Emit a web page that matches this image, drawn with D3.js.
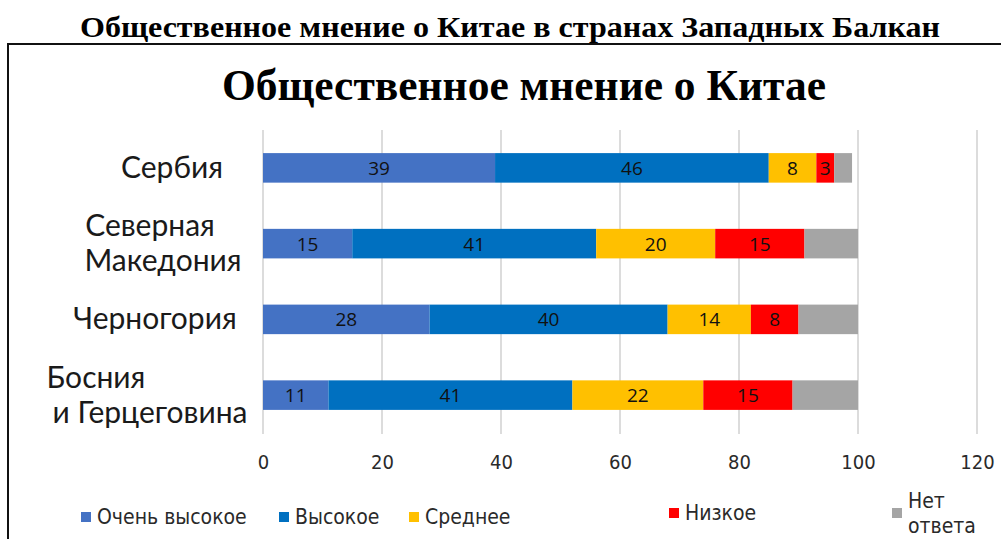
<!DOCTYPE html>
<html lang="ru">
<head>
<meta charset="utf-8">
<title>Общественное мнение о Китае</title>
<script src="https://d3js.org/d3.v7.min.js"></script>
<style>
	body { margin: 0; background: #fff; }
	svg { display: block; }
</style>
</head>
<body>
<svg id="chart" width="1001" height="539"></svg>
<script>
// data
var countries = ["Сербия", "Северная Македония", "Черногория", "Босния и Герцеговина"]
var countryLines = [["Сербия"], ["Северная", "Македония"], ["Черногория"], ["Босния", "и Герцеговина"]]
var seriesNames = ["Очень высокое", "Высокое", "Среднее", "Низкое", "Нет ответа"]
var veryHigh = [39, 15, 28, 11]
var high = [46, 41, 40, 41]
var medium = [8, 20, 14, 22]
var low = [3, 15, 8, 15]
var noAnswer = [3, 9, 10, 11]
var xTicks = [0, 20, 40, 60, 80, 100, 120]
var colors = ["#4472c4", "#0070c0", "#ffc000", "#ff0000", "#a5a5a5"]

var rows = countries.map(function(c, i) {
	return { country: c, values: [veryHigh[i], high[i], medium[i], low[i], noAnswer[i]] }
})

var svg = d3.select("#chart")

// page title
svg.append("text")
	.attr("x", 510).attr("y", 37)
	.attr("text-anchor", "middle")
	.style("font-family", "'Liberation Serif', serif")
	.style("font-weight", "bold")
	.style("font-size", "29px")
	.attr("textLength", 860)
	.attr("lengthAdjust", "spacingAndGlyphs")
	.text("Общественное мнение о Китае в странах Западных Балкан")

// frame
svg.append("rect")
	.attr("x", 8).attr("y", 44)
	.attr("width", 1010).attr("height", 520)
	.attr("fill", "none").attr("stroke", "#111").attr("stroke-width", 2)

// chart title
svg.append("text")
	.attr("x", 524).attr("y", 100)
	.attr("text-anchor", "middle")
	.style("font-family", "'Liberation Serif', serif")
	.style("font-weight", "bold")
	.style("font-size", "44px")
	.attr("textLength", 604)
	.attr("lengthAdjust", "spacingAndGlyphs")
	.text("Общественное мнение о Китае")

var x = d3.scaleLinear().domain([0, 120]).range([263, 977])
var y = d3.scaleBand().domain(countries).range([130, 433]).paddingInner(0.61).paddingOuter(0.305)

// grid
svg.append("g").selectAll("line")
	.data(xTicks)
	.join("line")
	.attr("x1", d => x(d)).attr("x2", d => x(d))
	.attr("y1", 130).attr("y2", 434)
	.attr("stroke", "#dcdcdc").attr("stroke-width", 2)

// x axis labels
var xAxis = svg.append("g")
	.attr("transform", "translate(0,455)")
	.call(d3.axisBottom(x).tickValues(xTicks).tickSize(0).tickPadding(0))
xAxis.select(".domain").remove()
xAxis.selectAll("text")
	.style("font-family", "'DejaVu Sans Condensed', 'Liberation Sans Narrow', sans-serif")
	.style("font-size", "20px")
	.attr("fill", "#2a2a2a")

// stacked bars
var stacked = rows.map(function(r) {
	var acc = 0
	return r.values.map(function(v, k) {
		var seg = { country: r.country, k: k, x0: acc, x1: acc + v, v: v }
		acc += v
		return seg
	})
})

var seg = svg.append("g").selectAll("g")
	.data(stacked)
	.join("g")
	.selectAll("g")
	.data(d => d)
	.join("g")

seg.append("rect")
	.attr("x", d => x(d.x0))
	.attr("width", d => x(d.x1) - x(d.x0))
	.attr("y", d => y(d.country))
	.attr("height", y.bandwidth())
	.attr("fill", d => colors[d.k])

seg.filter(d => d.k < 4)
	.append("text")
	.attr("x", d => (x(d.x0) + x(d.x1)) / 2)
	.attr("y", d => y(d.country) + y.bandwidth() / 2 + 7)
	.attr("text-anchor", "middle")
	.style("font-family", "'Open Sans', sans-serif")
	.style("font-size", "19px")
	.style("font-weight", "500")
	.attr("fill", "#111")
	.text(d => d.v)

// category labels (centre of each line)
var labelX = [[172], [150, 163], [155], [96, 150]]
var cat = svg.append("g").selectAll("text")
	.data(countries)
	.join("text")
	.attr("text-anchor", "middle")
	.style("font-family", "Lato, sans-serif")
	.style("font-size", "30px")
	.attr("fill", "#1a1a1a")
	.attr("transform", d => "translate(0," + (y(d) + y.bandwidth() / 2) + ")")

cat.each(function(d, i) {
	var lines = countryLines[i]
	var t = d3.select(this)
	lines.forEach(function(line, j) {
		t.append("tspan")
			.attr("x", labelX[i][j])
			.attr("y", (j - (lines.length - 1) / 2) * 35 + 10)
			.text(line)
	})
})

// legend
var legendX = [81, 279, 409, 669, 892]
var legendY = [517, 517, 517, 513, 513]
var legendLines = [["Очень высокое"], ["Высокое"], ["Среднее"], ["Низкое"], ["Нет", "ответа"]]
var leg = svg.append("g").selectAll("g")
	.data(seriesNames)
	.join("g")
	.attr("transform", (d, i) => "translate(" + legendX[i] + "," + legendY[i] + ")")

leg.append("rect")
	.attr("x", 0).attr("y", -5)
	.attr("width", 10).attr("height", 10)
	.attr("fill", (d, i) => colors[i])

leg.append("text")
	.style("font-family", "'DejaVu Sans Condensed', 'Liberation Sans Narrow', sans-serif")
	.style("font-size", "21px")
	.attr("fill", "#2a2a2a")
	.each(function(d, i) {
		var lines = legendLines[i]
		var t = d3.select(this)
		lines.forEach(function(line, j) {
			t.append("tspan")
				.attr("x", 16)
				.attr("y", (j - (lines.length - 1) / 2) * 25 + 7)
				.text(line)
		})
	})
</script>
</body>
</html>
